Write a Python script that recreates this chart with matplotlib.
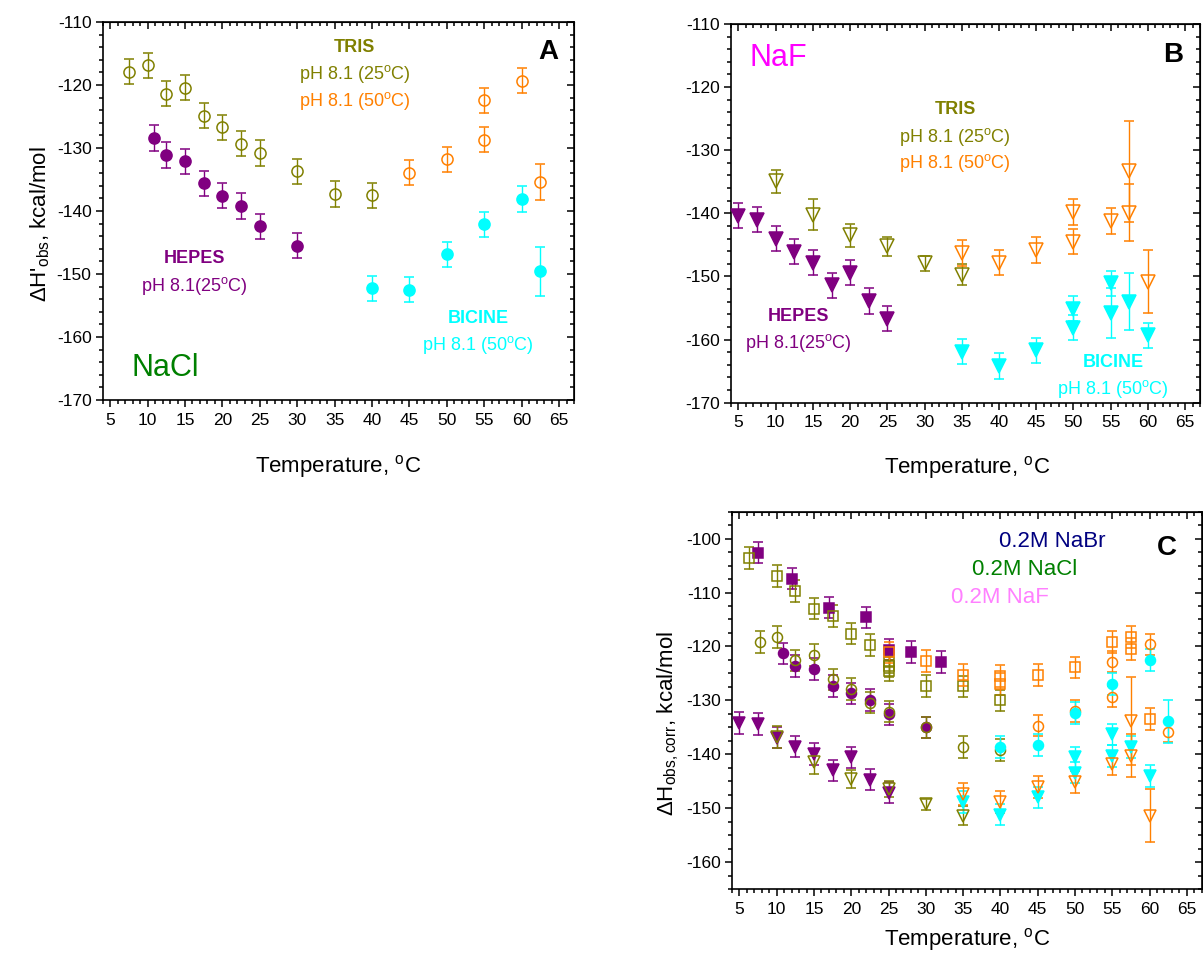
import matplotlib
matplotlib.use("Agg")
import matplotlib.pyplot as plt
from matplotlib.ticker import MultipleLocator

plt.rcParams['font.family'] = ['Liberation Sans', 'DejaVu Sans']
plt.rcParams['mathtext.fontset'] = 'custom'
plt.rcParams['mathtext.rm'] = 'Liberation Sans'
plt.rcParams['mathtext.it'] = 'Liberation Sans:italic'
plt.rcParams['mathtext.bf'] = 'Liberation Sans:bold'
plt.rcParams['axes.unicode_minus'] = False

OLIVE = '#808000'
PURPLE = '#800080'
ORANGE = '#FF8000'
CYAN = '#00FFFF'

# ---------------- Panel A (NaCl) ----------------
a_tris25_T = [7.5, 10, 12.5, 15, 17.5, 20, 22.5, 25, 30, 35, 40]
a_tris25_H = [-117.9, -116.9, -121.4, -120.4, -124.9, -126.7, -129.3, -130.8, -133.7, -137.3, -137.5]
a_tris25_E = [2.0] * 11
a_tris50_T = [45, 50, 55, 55, 60, 62.5]
a_tris50_H = [-133.9, -131.8, -128.7, -122.4, -119.3, -135.4]
a_tris50_E = [2.0, 2.0, 2.0, 2.0, 2.0, 2.9]
a_hepes_T = [10.8, 12.5, 15, 17.5, 20, 22.5, 25, 30]
a_hepes_H = [-128.4, -131.1, -132.1, -135.6, -137.6, -139.2, -142.4, -145.5]
a_hepes_E = [2.0] * 8
a_bicine_T = [40, 45, 50, 55, 60, 62.5]
a_bicine_H = [-152.3, -152.5, -146.9, -142.1, -138.1, -149.6]
a_bicine_E = [2.0, 2.0, 2.0, 2.0, 2.0, 3.9]

# ---------------- Panel B (NaF) ----------------
b_hepes_T = [5, 7.5, 10, 12.5, 15, 17.5, 20, 22.5, 25]
b_hepes_H = [-140.4, -141.0, -144.0, -146.1, -147.8, -151.4, -149.4, -153.9, -156.7]
b_hepes_E = [2.0] * 9
b_tris25_T = [10, 15, 20, 25, 30, 35]
b_tris25_H = [-134.9, -140.2, -143.5, -145.2, -147.9, -149.7]
b_tris25_E = [1.8, 2.4, 1.8, 1.5, 1.2, 1.7]
b_tris50_T = [35, 40, 45, 50, 50, 55, 57.5, 57.5, 60]
b_tris50_H = [-146.3, -147.8, -145.8, -139.8, -144.5, -141.2, -133.3, -139.9, -150.8]
b_tris50_E = [2.0, 2.0, 2.0, 2.0, 2.0, 2.0, 8.0, 4.5, 5.0]
b_bicine_T = [35, 40, 45, 50, 50, 55, 55, 57.5, 60]
b_bicine_H = [-161.9, -164.2, -161.7, -155.1, -158.1, -151.1, -155.8, -154.0, -159.3]
b_bicine_E = [2.0, 2.0, 2.0, 2.0, 2.0, 2.0, 4.0, 4.5, 2.0]

# ---------------- Panel C (corrected, all salts) ----------------
# squares (NaBr)
c_hepes_sq_T = [7.5, 12, 17, 22, 25, 28, 32]
c_hepes_sq_H = [-102.6, -107.4, -112.8, -114.6, -120.6, -121.0, -122.9]
c_tris25_sq_T = [6.3, 10, 12.5, 15, 17.5, 20, 22.5, 25, 25, 25, 30, 35, 40]
c_tris25_sq_H = [-103.6, -106.9, -109.7, -113.0, -114.4, -117.6, -119.7, -122.9, -123.7, -124.5, -127.3, -127.4, -130.0]
c_tris50_sq_T = [25, 30, 35, 40, 40, 45, 50, 55, 57.5, 57.5, 60]
c_tris50_sq_H = [-121.1, -122.7, -125.3, -125.5, -127.0, -125.3, -123.9, -119.2, -118.2, -120.5, -133.5]
# circles (NaCl)
c_tris25_ci_T = [7.7, 10, 12.5, 15, 17.5, 20, 22.5, 25, 30, 35, 40]
c_tris25_ci_H = [-119.2, -118.2, -122.6, -121.6, -126.1, -127.9, -130.4, -132.1, -135.0, -138.7, -139.2]
c_hepes_ci_T = [10.8, 12.5, 15, 17.5, 20, 22.5, 25, 30]
c_hepes_ci_H = [-121.3, -123.6, -124.2, -127.3, -128.7, -129.9, -132.6, -135.0]
c_tris50_ci_T = [45, 50, 55, 55, 60, 62.5]
c_tris50_ci_H = [-134.7, -132.0, -122.8, -129.3, -119.6, -135.8]
c_bicine_ci_T = [40, 45, 50, 55, 60, 62.5]
c_bicine_ci_H = [-138.7, -138.3, -132.3, -127.0, -122.5, -133.9]
c_bicine_ci_E = [2.0, 2.0, 2.0, 2.0, 2.0, 4.0]
# triangles (NaF)
c_hepes_tr_T = [5, 7.5, 10, 12.5, 15, 17.5, 20, 22.5, 25]
c_hepes_tr_H = [-134.2, -134.4, -136.9, -138.6, -140.0, -143.0, -140.6, -144.7, -147.1]
c_tris25_tr_T = [10, 15, 20, 25, 30, 35]
c_tris25_tr_H = [-136.8, -141.5, -144.6, -146.5, -149.3, -151.4]
c_tris25_tr_E = [2.0, 2.2, 1.7, 1.5, 1.0, 1.8]
c_tris50_tr_T = [35, 40, 45, 50, 55, 57.5, 57.5, 60]
c_tris50_tr_H = [-147.4, -148.9, -146.1, -145.2, -141.8, -133.8, -140.3, -151.4]
c_tris50_tr_E = [2.0, 2.0, 2.0, 2.0, 2.0, 8.2, 4.0, 4.9]
c_bicine_tr_T = [35, 40, 45, 50, 50, 55, 55, 57.5, 60]
c_bicine_tr_H = [-148.9, -151.2, -148.0, -140.6, -143.4, -136.3, -140.3, -138.7, -144.0]

XMAJOR = [5, 10, 15, 20, 25, 30, 35, 40, 45, 50, 55, 60, 65]

W, H = 1203, 960
fig = plt.figure(figsize=(W / 100, H / 100), dpi=100)


def axes_px(left, top, right, bottom):
    return fig.add_axes([left / W, 1 - bottom / H, (right - left) / W, (bottom - top) / H])


def style(ax, ylim, ymaj, ymin):
    ax.set_xlim(4, 67)
    ax.set_ylim(*ylim)
    for s in ax.spines.values():
        s.set_linewidth(1.2)
    ax.xaxis.set_major_locator(MultipleLocator(5))
    ax.xaxis.set_minor_locator(MultipleLocator(1))
    ax.yaxis.set_major_locator(MultipleLocator(ymaj))
    ax.yaxis.set_minor_locator(MultipleLocator(ymin))
    ax.tick_params(which='both', direction='out', top=False, right=False, width=1.1,
                   labelsize=12.5, colors='black')
    ax.tick_params(which='major', length=5, pad=3)
    ax.tick_params(axis='x', which='major', pad=4)
    ax.tick_params(which='minor', length=3)
    sx = ax.secondary_xaxis('top')
    sx.xaxis.set_major_locator(MultipleLocator(5))
    sx.xaxis.set_minor_locator(MultipleLocator(1))
    sx.tick_params(which='both', direction='in', labeltop=False, width=1.1)
    sx.tick_params(which='major', length=5)
    sx.tick_params(which='minor', length=3)
    sy = ax.secondary_yaxis('right')
    sy.yaxis.set_major_locator(MultipleLocator(ymaj))
    sy.yaxis.set_minor_locator(MultipleLocator(ymin))
    sy.tick_params(which='both', direction='in', labelright=False, width=1.1)
    sy.tick_params(which='major', length=5)
    sy.tick_params(which='minor', length=3)
    ax.set_xticks(XMAJOR)
    ax.set_xticklabels([str(v) for v in XMAJOR])


def series(ax, T, Hs, E, marker, color, filled, ms, z=3):
    if E is None:
        E = [2.0] * len(T)
    ax.errorbar(T, Hs, yerr=E, fmt=marker, color=color, ecolor=color,
                mfc=color if filled else 'none', mec=color, ms=ms, mew=1.1,
                elinewidth=1.0, capsize=3.3, capthick=1.0, zorder=z, clip_on=False)


DEG25 = r'pH 8.1 (25$^{\mathrm{o}}$C)'
DEG50 = r'pH 8.1 (50$^{\mathrm{o}}$C)'
HEP25 = r'pH 8.1(25$^{\mathrm{o}}$C)'
TFS = 13

# ---------- Panel A ----------
axA = axes_px(102.7, 22, 574, 400)
style(axA, (-170, -110), 10, 2)
series(axA, a_tris25_T, a_tris25_H, a_tris25_E, 'o', OLIVE, False, 8)
series(axA, a_tris50_T, a_tris50_H, a_tris50_E, 'o', ORANGE, False, 8)
series(axA, a_hepes_T, a_hepes_H, a_hepes_E, 'o', PURPLE, True, 8)
series(axA, a_bicine_T, a_bicine_H, a_bicine_E, 'o', CYAN, True, 8)
axA.text(37.7, -114.0, 'TRIS', color=OLIVE, fontsize=TFS, fontweight='bold', ha='center', va='center')
axA.text(37.7, -118.3, DEG25, color=OLIVE, fontsize=TFS, ha='center', va='center')
axA.text(37.7, -122.5, DEG50, color=ORANGE, fontsize=TFS, ha='center', va='center')
axA.text(63.5, -114.8, 'A', color='black', fontsize=20, fontweight='bold', ha='center', va='center')
axA.text(16.3, -147.6, 'HEPES', color=PURPLE, fontsize=TFS, fontweight='bold', ha='center', va='center')
axA.text(16.3, -151.9, HEP25, color=PURPLE, fontsize=TFS, ha='center', va='center')
axA.text(54.2, -157.0, 'BICINE', color=CYAN, fontsize=TFS, fontweight='bold', ha='center', va='center')
axA.text(54.1, -161.3, DEG50, color=CYAN, fontsize=TFS, ha='center', va='center')
axA.text(12.3, -164.9, 'NaCl', color='#008000', fontsize=22, ha='center', va='center')
axA.text(0.5, -0.177, r'Temperature, $^{\mathrm{o}}$C', transform=axA.transAxes,
         fontsize=16, ha='center', va='center')
axA.text(-0.133, 0.465, r"ΔH'$_{\mathrm{obs}}$, kcal/mol", transform=axA.transAxes,
         fontsize=16, ha='center', va='center', rotation=90)

# ---------- Panel B ----------
axB = axes_px(731, 24, 1200, 402.7)
style(axB, (-170, -110), 10, 2)
series(axB, b_tris25_T, b_tris25_H, b_tris25_E, 'v', OLIVE, False, 10)
series(axB, b_tris50_T, b_tris50_H, b_tris50_E, 'v', ORANGE, False, 10)
series(axB, b_hepes_T, b_hepes_H, b_hepes_E, 'v', PURPLE, True, 10)
series(axB, b_bicine_T, b_bicine_H, b_bicine_E, 'v', CYAN, True, 10)
axB.text(10.3, -115.4, 'NaF', color='#FF00FF', fontsize=22, ha='center', va='center')
axB.text(63.4, -114.9, 'B', color='black', fontsize=20, fontweight='bold', ha='center', va='center')
axB.text(34.1, -123.6, 'TRIS', color=OLIVE, fontsize=TFS, fontweight='bold', ha='center', va='center')
axB.text(34.1, -127.9, DEG25, color=OLIVE, fontsize=TFS, ha='center', va='center')
axB.text(34.1, -132.0, DEG50, color=ORANGE, fontsize=TFS, ha='center', va='center')
axB.text(13.0, -156.4, 'HEPES', color=PURPLE, fontsize=TFS, fontweight='bold', ha='center', va='center')
axB.text(13.0, -160.5, HEP25, color=PURPLE, fontsize=TFS, ha='center', va='center')
axB.text(55.3, -163.6, 'BICINE', color=CYAN, fontsize=TFS, fontweight='bold', ha='center', va='center')
axB.text(55.3, -167.8, DEG50, color=CYAN, fontsize=TFS, ha='center', va='center')
axB.text(0.503, -0.17, r'Temperature, $^{\mathrm{o}}$C', transform=axB.transAxes,
         fontsize=16, ha='center', va='center')

# ---------- Panel C ----------
axC = axes_px(732, 511.7, 1201.7, 889)
style(axC, (-165, -95), 10, 2.5)
axC.set_yticks([-100, -110, -120, -130, -140, -150, -160])
series(axC, c_hepes_sq_T, c_hepes_sq_H, None, 's', PURPLE, True, 6.8)
series(axC, c_tris25_sq_T, c_tris25_sq_H, None, 's', OLIVE, False, 6.8)
series(axC, c_tris50_sq_T, c_tris50_sq_H, None, 's', ORANGE, False, 6.8)
series(axC, c_hepes_ci_T, c_hepes_ci_H, None, 'o', PURPLE, True, 7.2)
series(axC, c_tris25_ci_T, c_tris25_ci_H, None, 'o', OLIVE, False, 7.2)
series(axC, c_tris50_ci_T, c_tris50_ci_H, None, 'o', ORANGE, False, 7.2)
series(axC, c_bicine_ci_T, c_bicine_ci_H, c_bicine_ci_E, 'o', CYAN, True, 7.2)
series(axC, c_hepes_tr_T, c_hepes_tr_H, None, 'v', PURPLE, True, 8.5)
series(axC, c_tris25_tr_T, c_tris25_tr_H, c_tris25_tr_E, 'v', OLIVE, False, 8.5)
series(axC, c_bicine_tr_T, c_bicine_tr_H, None, 'v', CYAN, True, 8.5)
series(axC, c_tris50_tr_T, c_tris50_tr_H, c_tris50_tr_E, 'v', ORANGE, False, 8.5)
axC.text(46.9, -100.6, '0.2M NaBr', color='#000080', fontsize=16, ha='center', va='center')
axC.text(43.3, -105.8, '0.2M NaCl', color='#008000', fontsize=16, ha='center', va='center')
axC.text(39.9, -111.0, '0.2M NaF', color='#FF80FF', fontsize=16, ha='center', va='center')
axC.text(62.3, -101.7, 'C', color='black', fontsize=20, fontweight='bold', ha='center', va='center')
axC.text(0.5, -0.135, r'Temperature, $^{\mathrm{o}}$C', transform=axC.transAxes,
         fontsize=16, ha='center', va='center')
axC.text(-0.136, 0.44, r"ΔH$_{\mathrm{obs,corr}}$, kcal/mol", transform=axC.transAxes,
         fontsize=16, ha='center', va='center', rotation=90)

fig.savefig('out.png', dpi=100)
